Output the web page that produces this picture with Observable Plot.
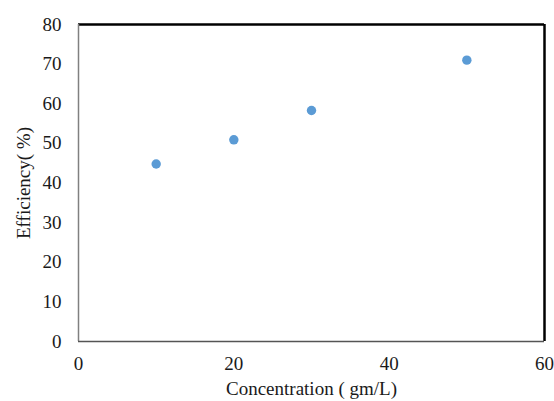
<!DOCTYPE html>
<html><head><meta charset="utf-8">
<script src="https://cdn.jsdelivr.net/npm/d3@7"></script>
<script src="https://cdn.jsdelivr.net/npm/@observablehq/plot@0.6"></script>
<style>body{margin:0;background:#fff} svg, svg text{font-family:'Liberation Serif','Times New Roman',serif !important;font-variant-numeric:normal !important;}</style>
</head><body><div id="chart"></div>
<script>
const concentration = [10, 20, 30, 50];
const efficiency = [44.8, 50.9, 58.3, 71.0];
const xTicks = [0, 20, 40, 60];
const yTicks = [0, 10, 20, 30, 40, 50, 60, 70, 80];
const xTitle = "Concentration ( gm/L)";
const yTitle = "Efficiency( %)";

const data = concentration.map((c, i) => ({c, e: efficiency[i]}));
const font = "'Liberation Serif', 'Times New Roman', serif";

const chart = Plot.plot({
  width: 554, height: 401,
  marginLeft: 78, marginRight: 10, marginTop: 24, marginBottom: 60,
  style: {fontFamily: font, fontSize: "19px", color: "#1a1a1a", background: "#fff"},
  x: {domain: [0, 60]},
  y: {domain: [0, 80]},
  marks: [
    Plot.axisY({ticks: yTicks, tickSize: 0, tickPadding: 17, fontSize: 19, fontFamily: font, label: yTitle, labelAnchor: "center", labelArrow: "none", labelOffset: 62}),
    Plot.axisX({ticks: xTicks, tickSize: 0, tickPadding: 15, fontSize: 19, fontFamily: font, label: xTitle, labelAnchor: "center", labelArrow: "none", labelOffset: 53}),
    Plot.ruleY([80], {stroke: "#000", strokeWidth: 2.5}),
    Plot.ruleX([60], {stroke: "#000", strokeWidth: 2.5}),
    Plot.ruleX([0], {stroke: "#808080", strokeWidth: 1.5}),
    Plot.ruleY([0], {stroke: "#555", strokeWidth: 1.5}),
    Plot.dot(data, {x: "c", y: "e", r: 4.7, fill: "#5B9BD5", stroke: "none"})
  ]
});
document.getElementById("chart").append(chart);
</script>
</body></html>
